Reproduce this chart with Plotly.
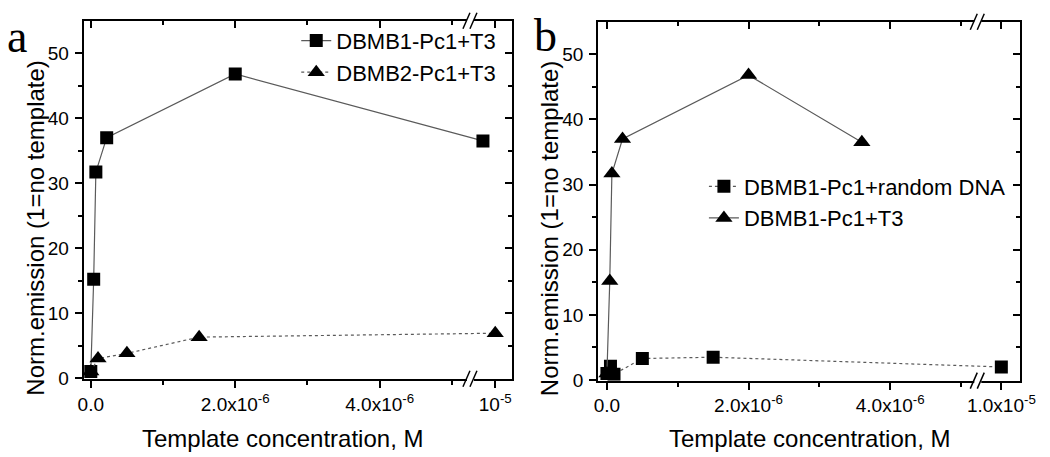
import plotly.graph_objects as go

W, H = 1050, 457

# ---------------- data ----------------
# panel a
a_s1_name = "DBMB1-Pc1+T3"
a_s1_x = [0.0, 0.04e-6, 0.07e-6, 0.22e-6, 2.0e-6, 9.83e-6]
a_s1_y = [1.0, 15.2, 31.7, 37.0, 46.8, 36.5]
a_s2_name = "DBMB2-Pc1+T3"
a_s2_x = [0.0, 0.1e-6, 0.5e-6, 1.5e-6, 1.0e-5]
a_s2_y = [1.0, 3.0, 3.8, 6.3, 6.9]
# panel b
b_s1_name = "DBMB1-Pc1+random DNA"
b_s1_x = [0.0, 0.05e-6, 0.1e-6, 0.5e-6, 1.5e-6, 1.0e-5]
b_s1_y = [1.0, 2.1, 0.9, 3.3, 3.5, 2.0]
b_s2_name = "DBMB1-Pc1+T3"
b_s2_x = [0.0, 0.04e-6, 0.07e-6, 0.22e-6, 2.0e-6, 3.6e-6]
b_s2_y = [1.0, 15.2, 31.7, 37.0, 46.8, 36.5]

a_ticktext = ["0.0", "2.0x10<sup>-6</sup>", "4.0x10<sup>-6</sup>", "10<sup>-5</sup>"]
b_ticktext = ["0.0", "2.0x10<sup>-6</sup>", "4.0x10<sup>-6</sup>", "1.0x10<sup>-5</sup>"]
x_tick_real = [0.0, 2e-6, 4e-6, 1e-5]
x_minor_real = [1e-6, 3e-6, 5e-6]

# broken-axis settings (display coordinate of the break, and shift applied after it)
a_break, a_shift = 5.25e-6, 4.40e-6
b_break, b_shift = 5.23e-6, 4.43e-6
a_xrange = [-0.1e-6, 5.83e-6]
b_xrange = [-0.125e-6, 5.84e-6]
yrange = [-0.1, 55]


def to_axis(vals, brk, shift):
    return [v if v <= brk else v - shift for v in vals]


# ---------------- layout helpers ----------------
def px2x(p):
    return p / W


def px2y(p):
    return 1 - p / H


a_dom_x = [px2x(71), px2x(508)]
a_dom_y = [px2y(379), px2y(13)]
b_dom_x = [px2x(596), px2x(1027)]
b_dom_y = [px2y(381), px2y(14)]

FONT = "Liberation Sans, Arial, sans-serif"
SERIF = "Liberation Serif, Times New Roman, serif"
LINEC = "#5a5a5a"

fig = go.Figure()

# panel a traces
fig.add_trace(go.Scatter(x=to_axis(a_s1_x, a_break, a_shift), y=a_s1_y, name=a_s1_name,
                         mode="lines+markers", line=dict(color=LINEC, width=1.2),
                         marker=dict(symbol="square", size=13, color="black"),
                         xaxis="x", yaxis="y", legend="legend"))
fig.add_trace(go.Scatter(x=to_axis(a_s2_x, a_break, a_shift), y=a_s2_y, name=a_s2_name,
                         mode="lines+markers", line=dict(color=LINEC, width=1.2, dash="dot"),
                         marker=dict(symbol="triangle-up", size=15, color="black"),
                         xaxis="x", yaxis="y", legend="legend"))
# panel b traces
fig.add_trace(go.Scatter(x=to_axis(b_s1_x, b_break, b_shift), y=b_s1_y, name=b_s1_name,
                         mode="lines+markers", line=dict(color=LINEC, width=1.2, dash="dot"),
                         marker=dict(symbol="square", size=13, color="black"),
                         xaxis="x2", yaxis="y2", legend="legend2"))
fig.add_trace(go.Scatter(x=to_axis(b_s2_x, b_break, b_shift), y=b_s2_y, name=b_s2_name,
                         mode="lines+markers", line=dict(color=LINEC, width=1.2),
                         marker=dict(symbol="triangle-up", size=15, color="black"),
                         xaxis="x2", yaxis="y2", legend="legend2"))

# empty helper traces so overlay (top/right tick) axes are drawn
for xa, ya in [("x3", "y"), ("x", "y3"), ("x4", "y2"), ("x2", "y4")]:
    fig.add_trace(go.Scatter(x=[], y=[], xaxis=xa, yaxis=ya, showlegend=False, hoverinfo="skip"))

tickfont = dict(family=FONT, size=19, color="black")


def xax(dom, rng, tickvals, ticktext, anchor, side="bottom", ticks="outside", labels=True, overlay=None):
    d = dict(domain=dom, range=rng, tickmode="array", tickvals=tickvals, ticktext=ticktext,
             ticks=ticks, ticklen=7, tickwidth=1.6, tickcolor="black",
             showticklabels=labels, tickfont=tickfont, showgrid=False, zeroline=False,
             anchor=anchor, side=side,
             minor=dict(tickmode="array", tickvals=to_axis(x_minor_real, 1, 0), ticks=ticks,
                        ticklen=4, tickwidth=1.6, tickcolor="black", showgrid=False))
    if overlay:
        d["overlaying"] = overlay
        d["showline"] = False
    else:
        d.update(showline=True, linecolor="black", linewidth=2, mirror=True)
    return d


def yax(dom, anchor, side="left", ticks="outside", labels=True, overlay=None):
    d = dict(domain=dom, range=yrange, tickmode="array", tickvals=[0, 10, 20, 30, 40, 50],
             ticks=ticks, ticklen=7, tickwidth=1.6, tickcolor="black",
             showticklabels=labels, tickfont=tickfont, showgrid=False, zeroline=False,
             anchor=anchor, side=side, ticklabelstandoff=2,
             minor=dict(tickmode="array", tickvals=[5, 15, 25, 35, 45], ticks=ticks,
                        ticklen=4, tickwidth=1.6, tickcolor="black", showgrid=False))
    if overlay:
        d["overlaying"] = overlay
        d["showline"] = False
    else:
        d.update(showline=True, linecolor="black", linewidth=2, mirror=True)
    return d


a_tickvals = to_axis(x_tick_real, a_break, a_shift)
b_tickvals = to_axis(x_tick_real, b_break, b_shift)

fig.update_layout(
    width=W, height=H, margin=dict(l=0, r=0, t=0, b=0),
    paper_bgcolor="white", plot_bgcolor="white",
    font=dict(family=FONT, color="black"),
    xaxis=xax(a_dom_x, a_xrange, a_tickvals, a_ticktext, "y"),
    yaxis=yax(a_dom_y, "x"),
    xaxis2=xax(b_dom_x, b_xrange, b_tickvals, b_ticktext, "y2"),
    yaxis2=yax(b_dom_y, "x2"),
    xaxis3=xax(a_dom_x, a_xrange, a_tickvals, a_ticktext, "y", side="top", ticks="inside",
               labels=False, overlay="x"),
    yaxis3=yax(a_dom_y, "x", side="right", ticks="inside", labels=False, overlay="y"),
    xaxis4=xax(b_dom_x, b_xrange, b_tickvals, b_ticktext, "y2", side="top", ticks="inside",
               labels=False, overlay="x2"),
    yaxis4=yax(b_dom_y, "x2", side="right", ticks="inside", labels=False, overlay="y2"),
    legend=dict(x=px2x(288), y=px2y(12), xanchor="left", yanchor="top",
                bgcolor="rgba(0,0,0,0)", font=dict(family=FONT, size=22, color="black"),
                tracegroupgap=0),
    legend2=dict(x=px2x(704), y=px2y(161), xanchor="left", yanchor="top",
                 bgcolor="rgba(0,0,0,0)", font=dict(family=FONT, size=22, color="black"),
                 tracegroupgap=0),
)

# axis titles & panel letters
ann = []
ann.append(dict(text="Template concentration, M", x=px2x(274), y=px2y(440), xref="paper", yref="paper",
                showarrow=False, font=dict(family=FONT, size=24), xanchor="center", yanchor="middle"))
ann.append(dict(text="Template concentration, M", x=px2x(812), y=px2y(440), xref="paper", yref="paper",
                showarrow=False, font=dict(family=FONT, size=24), xanchor="center", yanchor="middle"))
ann.append(dict(text="Norm.emission (1=no template)", x=px2x(22), y=px2y(225), xref="paper", yref="paper",
                showarrow=False, textangle=-90, font=dict(family=FONT, size=24),
                xanchor="center", yanchor="middle"))
ann.append(dict(text="Norm.emission (1=no template)", x=px2x(546), y=px2y(226), xref="paper", yref="paper",
                showarrow=False, textangle=-90, font=dict(family=FONT, size=24),
                xanchor="center", yanchor="middle"))
ann.append(dict(text="a", x=px2x(17), y=px2y(29), xref="paper", yref="paper", showarrow=False,
                xshift=-14, font=dict(family=SERIF, size=46),
                xanchor="center", yanchor="middle"))
ann.append(dict(text="b", x=px2x(545), y=px2y(28), xref="paper", yref="paper", showarrow=False,
                xshift=-3, font=dict(family=SERIF, size=46),
                xanchor="center", yanchor="middle"))
fig.update_layout(annotations=ann)

# axis break marks "//" on top and bottom axes
shapes = []
for xref, brk, dom_y in [("x", a_break, a_dom_y), ("x2", b_break, b_dom_y)]:
    for yy in dom_y:
        shapes.append(dict(type="rect", xref=xref, yref="paper", xsizemode="pixel", ysizemode="pixel",
                           xanchor=brk, yanchor=yy, x0=-3, x1=4, y0=-3, y1=3,
                           fillcolor="white", line=dict(width=0), layer="above"))
        for off in (-4, 3):
            shapes.append(dict(type="line", xref=xref, yref="paper", xsizemode="pixel", ysizemode="pixel",
                               xanchor=brk, yanchor=yy, x0=off - 3, x1=off + 4, y0=-8, y1=8,
                               line=dict(color="black", width=1.5), layer="above"))
fig.update_layout(shapes=shapes)

fig.write_html("out.html")
